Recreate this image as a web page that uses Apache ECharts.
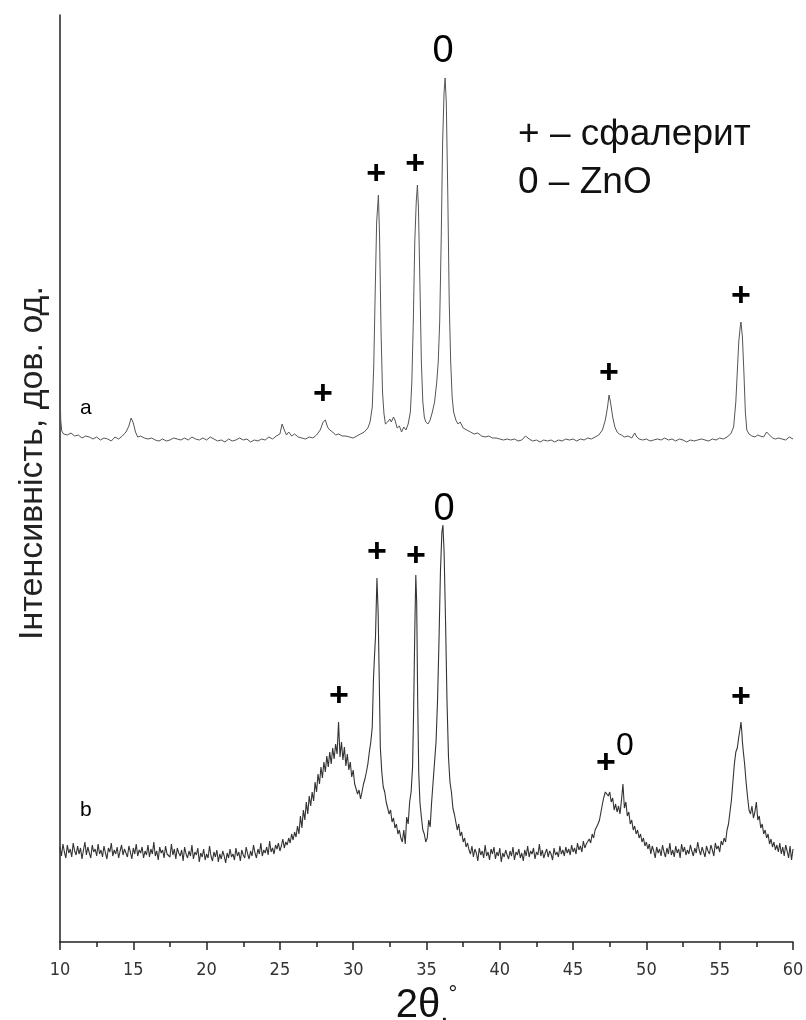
<!DOCTYPE html>
<html>
<head>
<meta charset="utf-8">
<script src="https://cdn.jsdelivr.net/npm/echarts@6/dist/echarts.min.js"></script>
<style>html,body{margin:0;padding:0;background:#fff}#c{width:806px;height:1020px}</style>
</head>
<body>
<div id="c"></div>
<script>
// 2θ (degrees), intensity (arb. units) — pattern a (upper)
const seriesA = [
[10.00,557],[10.05,522],[10.12,511],[10.25,508],[10.5,507],[10.75,509],[11.0,506],[11.25,507],[11.5,504],[11.75,506],
[12.0,505],[12.25,503],[12.5,505],[12.75,502],[13.0,504],[13.25,503],[13.5,501],[13.75,505],[14.0,503],[14.25,506],
[14.5,510],[14.7,516],[14.85,524],[15.0,519],[15.15,510],[15.3,505],[15.5,506],[15.75,504],[16.0,503],[16.25,504],
[16.5,502],[16.75,501],[17.0,503],[17.25,501],[17.5,502],[17.75,504],[18.0,503],[18.25,502],[18.5,504],[18.75,502],
[19.0,505],[19.25,503],[19.5,502],[19.75,504],[20.0,502],[20.25,505],[20.5,503],[20.75,501],[21.0,502],[21.25,500],
[21.5,503],[21.75,501],[22.0,502],[22.25,504],[22.5,502],[22.75,503],[23.0,500],[23.25,502],[23.5,501],[23.75,503],
[24.0,502],[24.25,505],[24.5,503],[24.75,506],[25.0,508],[25.15,518],[25.3,512],[25.45,507],[25.6,510],[25.8,506],
[26.0,508],[26.25,505],[26.5,504],[26.75,503],[27.0,505],[27.25,504],[27.5,507],[27.75,512],[27.95,520],[28.1,522],
[28.25,515],[28.4,512],[28.6,510],[28.8,507],[29.0,508],[29.25,506],[29.5,506],[29.75,505],[30.0,504],[30.25,506],
[30.5,508],[30.75,510],[31.0,514],[31.15,520],[31.3,535],[31.4,575],[31.5,650],[31.6,720],[31.72,747],[31.8,705],
[31.9,610],[32.0,550],[32.1,528],[32.2,518],[32.35,520],[32.5,523],[32.6,520],[32.75,525],[32.85,522],[33.0,514],
[33.15,516],[33.3,510],[33.45,515],[33.6,512],[33.75,518],[33.9,530],[34.0,560],[34.1,620],[34.2,700],[34.3,740],
[34.38,757],[34.45,735],[34.55,660],[34.65,580],[34.75,540],[34.85,525],[34.95,520],[35.1,518],[35.25,522],[35.4,530],
[35.55,540],[35.7,560],[35.8,580],[35.9,620],[36.0,700],[36.1,800],[36.2,850],[36.27,864],[36.35,840],[36.45,750],
[36.55,640],[36.65,580],[36.75,545],[36.85,530],[37.0,522],[37.15,518],[37.3,520],[37.5,514],[37.75,512],[38.0,510],
[38.25,508],[38.5,509],[38.75,506],[39.0,505],[39.25,506],[39.5,504],[39.75,504],[40.0,503],[40.25,502],[40.5,503],
[40.75,502],[41.0,503],[41.25,501],[41.5,502],[41.75,506],[42.0,503],[42.25,501],[42.5,502],[42.75,500],[43.0,502],
[43.25,501],[43.5,502],[43.75,500],[44.0,502],[44.25,501],[44.5,503],[44.75,502],[45.0,503],[45.25,501],[45.5,503],
[45.75,502],[46.0,504],[46.25,503],[46.5,505],[46.75,507],[47.0,512],[47.2,522],[47.35,535],[47.45,547],[47.55,540],
[47.7,525],[47.85,515],[48.0,510],[48.15,508],[48.3,507],[48.5,505],[48.75,506],[49.0,504],[49.2,509],[49.35,505],
[49.5,503],[49.75,502],[50.0,503],[50.25,501],[50.5,502],[50.75,503],[51.0,502],[51.25,504],[51.5,502],[51.75,503],
[52.0,501],[52.25,503],[52.5,502],[52.75,500],[53.0,502],[53.25,501],[53.5,502],[53.75,503],[54.0,502],[54.25,501],
[54.5,503],[54.75,502],[55.0,504],[55.25,503],[55.5,505],[55.75,508],[55.95,515],[56.1,540],[56.2,570],[56.3,600],
[56.4,615],[56.45,620],[56.55,605],[56.65,570],[56.75,530],[56.85,512],[57.0,508],[57.2,506],[57.4,505],[57.6,507],
[57.75,506],[58.0,505],[58.2,510],[58.4,507],[58.6,504],[58.8,503],[59.0,504],[59.25,503],[59.5,502],[59.75,505],[60.0,503]
];

// pattern b (lower)
const seriesB = [
[10.0,95],[10.1,86],[10.2,98],[10.3,90],[10.4,84],[10.5,97],[10.6,89],[10.7,93],[10.8,85],[10.9,99],
[11.0,91],[11.1,87],[11.2,96],[11.3,88],[11.4,94],[11.5,83],[11.6,92],[11.7,100],[11.8,87],[11.9,95],
[12.0,89],[12.1,84],[12.2,97],[12.3,90],[12.4,93],[12.5,86],[12.6,98],[12.7,88],[12.8,92],[12.9,85],
[13.0,96],[13.1,89],[13.2,83],[13.3,94],[13.4,90],[13.5,99],[13.6,86],[13.7,92],[13.8,88],[13.9,95],
[14.0,84],[14.1,91],[14.2,97],[14.3,87],[14.4,93],[14.5,89],[14.6,85],[14.7,96],[14.8,90],[14.9,83],
[15.0,94],[15.1,88],[15.2,98],[15.3,86],[15.4,92],[15.5,89],[15.6,95],[15.7,84],[15.8,91],[15.9,87],
[16.0,97],[16.1,85],[16.2,93],[16.3,88],[16.4,100],[16.5,86],[16.6,91],[16.7,82],[16.8,95],[16.9,89],
[17.0,92],[17.1,84],[17.2,96],[17.3,88],[17.4,90],[17.5,85],[17.6,98],[17.7,87],[17.8,93],[17.9,83],
[18.0,94],[18.1,89],[18.2,86],[18.3,92],[18.4,81],[18.5,95],[18.6,88],[18.7,84],[18.8,91],[18.9,86],
[19.0,97],[19.1,83],[19.2,90],[19.3,87],[19.4,94],[19.5,80],[19.6,89],[19.7,85],[19.8,93],[19.9,82],
[20.0,88],[20.1,84],[20.2,96],[20.3,86],[20.4,81],[20.5,90],[20.6,85],[20.7,92],[20.8,80],[20.9,88],
[21.0,83],[21.1,91],[21.2,86],[21.3,79],[21.4,89],[21.5,84],[21.6,93],[21.7,85],[21.8,88],[21.9,82],
[22.0,94],[22.1,86],[22.2,90],[22.3,81],[22.4,92],[22.5,87],[22.6,84],[22.7,95],[22.8,88],[22.9,83],
[23.0,91],[23.1,86],[23.2,97],[23.3,89],[23.4,84],[23.5,93],[23.6,88],[23.7,99],[23.8,86],[23.9,92],
[24.0,89],[24.1,95],[24.2,87],[24.3,101],[24.4,90],[24.5,94],[24.6,88],[24.7,97],[24.8,93],[24.9,99],
[25.0,91],[25.1,96],[25.2,103],[25.3,94],[25.4,100],[25.5,97],[25.6,104],[25.7,99],[25.8,108],[25.9,102],
[26.0,110],[26.1,105],[26.2,116],[26.3,108],[26.4,126],[26.5,114],[26.6,132],[26.7,122],[26.8,140],[26.9,128],
[27.0,146],[27.1,136],[27.2,150],[27.3,141],[27.4,160],[27.5,150],[27.6,168],[27.7,158],[27.8,175],[27.9,164],
[28.0,180],[28.1,170],[28.2,186],[28.3,175],[28.4,190],[28.5,178],[28.6,194],[28.7,183],[28.8,198],[28.9,188],
[29.0,220],[29.1,185],[29.2,200],[29.3,182],[29.4,195],[29.5,176],[29.6,188],[29.7,172],[29.8,180],[29.9,165],
[30.0,172],[30.1,158],[30.2,160],[30.3,148],[30.4,152],[30.5,143],[30.6,150],[30.7,158],[30.8,163],[30.9,170],
[31.0,178],[31.1,190],[31.2,200],[31.3,215],[31.38,262],[31.45,285],[31.52,305],[31.57,335],[31.62,364],[31.7,330],
[31.78,260],[31.85,195],[31.95,170],[32.05,155],[32.15,150],[32.25,140],[32.35,138],[32.45,128],[32.55,132],[32.65,120],
[32.75,124],[32.85,114],[32.95,118],[33.05,108],[33.15,112],[33.25,104],[33.35,100],[33.45,112],[33.55,98],[33.65,125],
[33.75,118],[33.85,140],[33.95,150],[34.05,175],[34.12,230],[34.2,310],[34.27,367],[34.33,340],[34.4,240],[34.47,170],
[34.55,140],[34.65,125],[34.75,112],[34.85,108],[34.95,100],[35.05,104],[35.15,122],[35.25,115],[35.35,140],[35.45,160],
[35.55,180],[35.65,200],[35.75,240],[35.85,300],[35.95,370],[36.05,410],[36.12,417],[36.2,390],[36.3,320],[36.4,240],
[36.5,185],[36.6,160],[36.7,150],[36.8,134],[36.9,128],[37.0,120],[37.1,112],[37.2,118],[37.3,106],[37.4,110],
[37.5,100],[37.6,104],[37.7,95],[37.8,99],[37.9,92],
[38.0,88],[38.1,96],[38.2,85],[38.3,93],[38.4,89],[38.5,81],[38.6,94],[38.7,87],[38.8,91],[38.9,84],
[39.0,97],[39.1,86],[39.2,90],[39.3,82],[39.4,93],[39.5,88],[39.6,95],[39.7,83],[39.8,90],[39.9,86],
[40.0,94],[40.1,80],[40.2,89],[40.3,85],[40.4,92],[40.5,87],[40.6,83],[40.7,91],[40.8,86],[40.9,95],
[41.0,82],[41.1,90],[41.2,87],[41.3,93],[41.4,84],[41.5,89],[41.6,81],[41.7,92],[41.8,86],[41.9,96],
[42.0,85],[42.1,91],[42.2,88],[42.3,94],[42.4,83],[42.5,90],[42.6,87],[42.7,98],[42.8,86],[42.9,92],
[43.0,84],[43.1,89],[43.2,93],[43.3,85],[43.4,91],[43.5,88],[43.6,82],[43.7,94],[43.8,87],[43.9,90],
[44.0,85],[44.1,96],[44.2,88],[44.3,92],[44.4,86],[44.5,95],[44.6,89],[44.7,93],[44.8,87],[44.9,97],
[45.0,90],[45.1,94],[45.2,88],[45.3,99],[45.4,92],[45.5,96],[45.6,90],[45.7,101],[45.8,94],[45.9,98],
[46.0,96],[46.1,103],[46.2,99],[46.3,108],[46.4,104],[46.5,112],[46.6,110],[46.7,118],[46.8,122],[46.9,130],
[47.0,138],[47.1,145],[47.2,150],[47.3,152],[47.4,146],[47.5,150],[47.6,140],[47.7,144],[47.8,132],[47.9,138],
[48.0,130],[48.1,136],[48.2,128],[48.3,142],[48.4,158],[48.5,134],[48.6,140],[48.7,126],[48.8,130],[48.9,118],
[49.0,122],[49.1,112],[49.2,116],[49.3,108],[49.4,112],[49.5,104],[49.6,108],[49.7,100],[49.8,104],[49.9,96],
[50.0,100],[50.1,93],[50.2,98],[50.3,88],[50.4,96],[50.5,91],[50.6,84],[50.7,95],[50.8,89],[50.9,93],
[51.0,86],[51.1,97],[51.2,90],[51.3,85],[51.4,94],[51.5,88],[51.6,99],[51.7,87],[51.8,92],[51.9,85],
[52.0,96],[52.1,89],[52.2,93],[52.3,84],[52.4,98],[52.5,90],[52.6,95],[52.7,87],[52.8,92],[52.9,88],
[53.0,97],[53.1,91],[53.2,86],[53.3,94],[53.4,89],[53.5,100],[53.6,92],[53.7,87],[53.8,95],[53.9,90],
[54.0,85],[54.1,96],[54.2,91],[54.3,88],[54.4,97],[54.5,92],[54.6,86],[54.7,99],[54.8,93],[54.9,96],
[55.0,90],[55.1,101],[55.2,97],[55.3,104],[55.4,100],[55.5,112],[55.6,118],[55.7,130],[55.8,142],[55.9,160],
[56.0,178],[56.1,190],[56.2,194],[56.3,205],[56.4,214],[56.45,220],[56.5,212],[56.55,200],[56.6,192],[56.7,178],
[56.8,160],[56.9,145],[57.0,132],[57.1,128],[57.2,136],[57.3,124],[57.4,130],[57.5,140],[57.6,122],[57.7,126],
[57.8,114],[57.9,118],[58.0,108],[58.1,112],[58.2,104],[58.3,108],[58.4,98],[58.5,103],[58.6,95],[58.7,100],
[58.8,92],[58.9,97],[59.0,90],[59.1,99],[59.2,88],[59.3,95],[59.4,86],[59.5,97],[59.6,91],[59.7,84],
[59.8,96],[59.9,82],[60.0,93]
];

// peak markers: [2θ, intensity, text, style]
const peakMarks = [
[27.94,547,'+','p'],[31.56,767,'+','p'],[34.22,777,'+','p'],[36.13,890,'0','z'],[47.45,568,'+','p'],[56.45,645,'+','p'],
[29.03,245,'+','p'],[31.62,389,'+','p'],[34.28,385,'+','p'],[36.19,432,'0','z'],[47.24,178,'+','p'],[48.54,196,'0','zs'],[56.45,244,'+','p']
];
// curve labels
const curveLabels = [[11.77,534,'a'],[11.77,132,'b']];
const legendLines = ['+ – сфалерит','0 – ZnO'];
const yTitle = 'Інтенсивність, дов. од.';
const xTicks = [10,15,20,25,30,35,40,45,50,55,60];

const chart = echarts.init(document.getElementById('c'), null, {renderer:'canvas'});
const FONT = '"Liberation Sans", Arial, sans-serif';
chart.setOption({
  animation:false,
  backgroundColor:'#fff',
  grid:{left:60,right:13,top:15,bottom:78,containLabel:false,outerBoundsMode:'none'},
  xAxis:{
    type:'value', min:xTicks[0], max:xTicks[xTicks.length-1], interval:5,
    axisLine:{show:true,lineStyle:{color:'#222',width:1.5}},
    axisTick:{show:true,length:8,inside:false,lineStyle:{color:'#222',width:1.5}},
    minorTick:{show:true,splitNumber:2,length:5,lineStyle:{color:'#222',width:1.5}},
    splitLine:{show:false},
    axisLabel:{color:'#333',fontSize:18,fontFamily:'"Liberation Sans Narrow", "DejaVu Sans Condensed", sans-serif',margin:19},
    name:'{t|2θ}{d|.}{s|°}', nameLocation:'middle', nameGap:40,
    nameTextStyle:{rich:{
      t:{fontSize:40,fontFamily:FONT,color:'#111'},
      d:{fontSize:30,fontFamily:FONT,color:'#111',verticalAlign:'bottom'},
      s:{fontSize:22,fontFamily:FONT,color:'#111',verticalAlign:'top',padding:[0,0,22,0]}
    }}
  },
  yAxis:{
    type:'value', min:0, max:927,
    axisLine:{show:true,lineStyle:{color:'#222',width:1.5}},
    axisTick:{show:false}, axisLabel:{show:false}, splitLine:{show:false}
  },
  graphic:[
    {type:'text',x:33,y:463,rotation:Math.PI/2,
     style:{text:yTitle,font:'34px "Liberation Sans", Arial, sans-serif',fill:'#222',align:'center',verticalAlign:'middle'}},
    {type:'text',left:518,top:116,style:{text:legendLines[0],font:'37px "Liberation Sans", Arial, sans-serif',fill:'#111'}},
    {type:'text',left:518,top:164,style:{text:legendLines[1],font:'37px "Liberation Sans", Arial, sans-serif',fill:'#111'}}
  ],
  series:[
    {type:'line',data:seriesA,showSymbol:false,symbol:'none',lineStyle:{color:'#555',width:1},z:3},
    {type:'line',data:seriesB,showSymbol:false,symbol:'none',lineStyle:{color:'#333',width:1.1},z:3},
    {type:'scatter',symbolSize:0,z:5,silent:true,itemStyle:{opacity:1},
     data:peakMarks.map(d=>({value:[d[0],d[1]],name:d[2],
       label:{show:true,position:'inside',formatter:d[2],color:'#000',opacity:1,fontFamily:FONT,
         fontSize:d[3]==='p'?34:(d[3]==='z'?38:32),fontWeight:d[3]==='p'?'bold':'normal'}}))},
    {type:'scatter',symbolSize:0,z:5,silent:true,itemStyle:{opacity:1},
     data:curveLabels.map(d=>({value:[d[0],d[1]],
       label:{show:true,position:'inside',formatter:d[2],color:'#000',opacity:1,fontFamily:FONT,fontSize:21}}))}
  ]
});
</script>
</body>
</html>
